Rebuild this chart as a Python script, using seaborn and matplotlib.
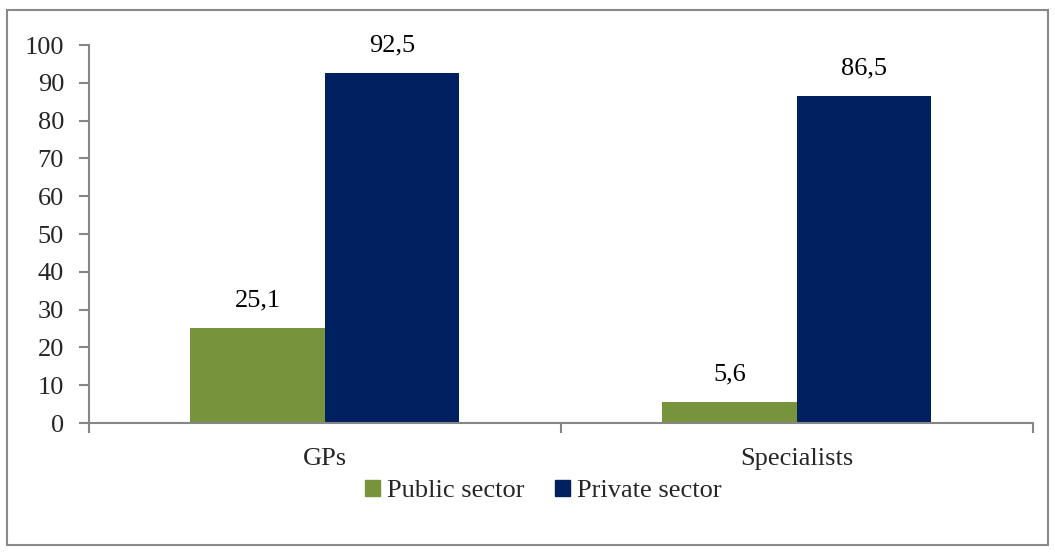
import pandas as pd
import matplotlib.pyplot as plt
import seaborn as sns
from matplotlib.patches import Rectangle

# data
groups = ["GPs", "Specialists"]
sectors = ["Public sector", "Private sector"]
public_vals = [25.1, 5.6]
private_vals = [92.5, 86.5]
colors = ["#77933C", "#002060"]

df = pd.DataFrame({
    "group": groups * 2,
    "sector": [sectors[0]] * 2 + [sectors[1]] * 2,
    "value": public_vals + private_vals,
})

sns.set_theme(style="white")
plt.rcParams["font.family"] = ["Liberation Serif", "DejaVu Serif"]
FS = 19

fig = plt.figure(figsize=(10.55, 5.53), dpi=100)
ax = fig.add_axes([0.0844, 0.235, 0.8945, 0.6836])

sns.barplot(data=df, x="group", y="value", hue="sector", palette=colors,
            width=0.57, saturation=1, linewidth=0, ax=ax, legend=False)

for cont in ax.containers:
    labels = [f"{v:.1f}".replace(".", ",") for v in cont.datavalues]
    ax.bar_label(cont, labels=labels, padding=12, fontsize=FS, color="black")

gray = "#868686"
ax.set_ylim(0, 100)
ax.set_yticks(range(0, 101, 10))
ax.set_xlim(-0.5, 1.5)
ax.set_xticks([0, 1])
ax.set_xticklabels(groups)
ax.set_xlabel("")
ax.set_ylabel("")
ax.tick_params(axis="y", labelsize=FS, length=7, width=1.5, color=gray,
               left=True, direction="out", pad=11)
ax.tick_params(axis="x", labelsize=FS, length=0, pad=18)
# minor ticks at group boundaries
ax.set_xticks([-0.5, 0.5, 1.5], minor=True)
ax.tick_params(axis="x", which="minor", length=7, width=1.5, color=gray,
               bottom=True, direction="out")
for side in ["top", "right"]:
    ax.spines[side].set_visible(False)
for side in ["left", "bottom"]:
    ax.spines[side].set_color(gray)
    ax.spines[side].set_linewidth(1.5)

handles = [Rectangle((0, 0), 1, 1, color=c) for c in colors]
fig.legend(handles, sectors, loc="center", bbox_to_anchor=(0.515, 0.112),
           ncol=2, frameon=False, fontsize=FS, handlelength=0.57,
           handleheight=0.57, handletextpad=0.25, columnspacing=1.15)

# outer chart border
fig.patches.append(Rectangle((0.0066, 0.014), 0.9868, 0.968, transform=fig.transFigure,
                             fill=False, edgecolor="#898989", linewidth=1.5))

fig.savefig("out.png", dpi=100)
